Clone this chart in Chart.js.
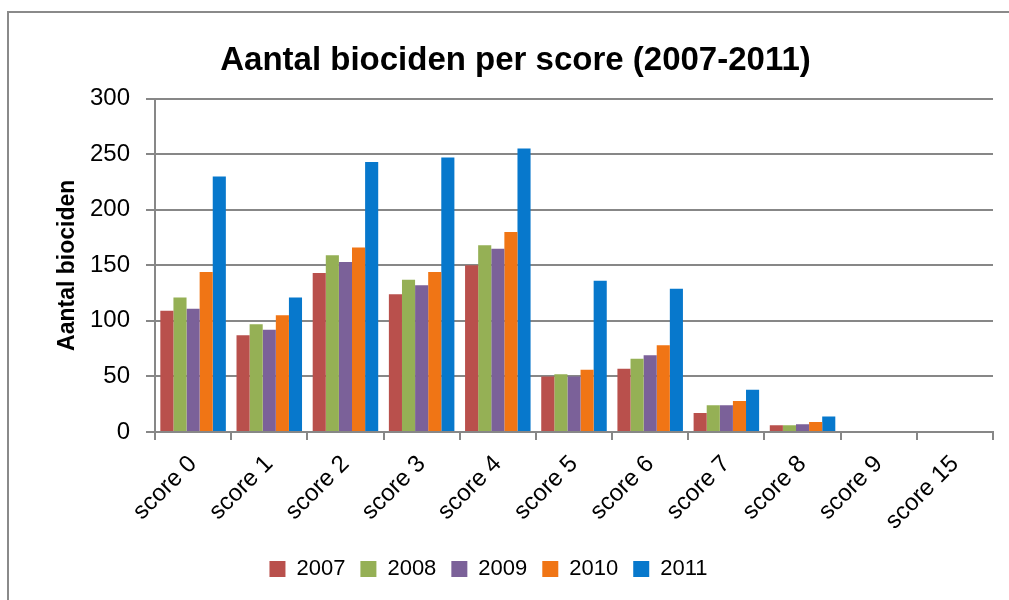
<!DOCTYPE html>
<html>
<head>
<meta charset="utf-8">
<script src="https://cdn.jsdelivr.net/npm/chart.js@4"></script>
<style>
  html, body { margin: 0; padding: 0; background: #fff; }
  #wrap { width: 1009px; height: 600px; position: relative; }
</style>
</head>
<body>
<div id="wrap"><canvas id="bioChart" width="1009" height="600"></canvas></div>
<script>
// categorieën en waarden per jaar
const categories = ['score 0', 'score 1', 'score 2', 'score 3', 'score 4', 'score 5',
    'score 6', 'score 7', 'score 8', 'score 9', 'score 15'];
const years = ['2007', '2008', '2009', '2010', '2011'];
const values2007 = [109, 87, 143, 124, 150, 50, 57, 17, 6, 0, 1];
const values2008 = [121, 97, 159, 137, 168, 52, 66, 24, 6, 1, 1];
const values2009 = [111, 92, 153, 132, 165, 50, 69, 24, 7, 1, 0];
const values2010 = [144, 105, 166, 144, 180, 56, 78, 28, 9, 1, 0];
const values2011 = [230, 121, 243, 247, 255, 136, 129, 38, 14, 1, 0];
const yTicks = [0, 50, 100, 150, 200, 250, 300];

const colors = ['#b9504c', '#95b055', '#7b6199', '#f07515', '#0778cc'];
const allValues = [values2007, values2008, values2009, values2010, values2011];

const fontFamily = '"Liberation Sans", Arial, sans-serif';
const gridColor = '#878787';

// rand om de hele grafiek + titel/legenda iets verschuiven
const frame = {
    id: 'frame',
    afterLayout(chart) {
        chart.titleBlock.left += 30;
        chart.legend.left -= 12;
        chart.legend.right -= 12;
    },
    beforeDraw(chart) {
        const c = chart.ctx;
        c.save();
        c.fillStyle = '#fff';
        c.fillRect(0, 0, chart.width, chart.height);
        c.strokeStyle = '#8a8a8a';
        c.lineWidth = 2;
        c.strokeRect(8, 12, 1010, 600);
        c.restore();
    }
};

new Chart(document.getElementById('bioChart'), {
    type: 'bar',
    data: {
        labels: categories,
        datasets: years.map((y, i) => ({
            label: y,
            data: allValues[i],
            backgroundColor: colors[i],
            borderWidth: 0,
            categoryPercentage: 0.86,
            barPercentage: 1.0
        }))
    },
    options: {
        responsive: false,
        animation: false,
        layout: { padding: { left: 8, right: 16, top: 0, bottom: 10 } },
        scales: {
            x: {
                offset: true,
                afterFit: axis => { axis.height = 111; },
                grid: {
                    offset: true,
                    drawOnChartArea: false,
                    color: gridColor,
                    lineWidth: 2,
                    tickLength: 8
                },
                border: { color: gridColor, width: 2 },
                ticks: {
                    color: '#000',
                    font: { family: fontFamily, size: 24 },
                    minRotation: 45,
                    maxRotation: 45,
                    padding: 10
                }
            },
            y: {
                min: 0,
                max: 300,
                afterFit: axis => { axis.width = 147; },
                afterBuildTicks: axis => { axis.ticks = yTicks.map(v => ({ value: v })); },
                grid: { color: gridColor, lineWidth: 2, tickLength: 9 },
                border: { color: gridColor, width: 2 },
                ticks: {
                    color: '#000',
                    font: { family: fontFamily, size: 24 },
                    padding: 16
                },
                title: {
                    display: true,
                    text: 'Aantal biociden',
                    color: '#000',
                    font: { family: fontFamily, size: 23, weight: 'bold' },
                    padding: { top: 46, bottom: 4 }
                }
            }
        },
        plugins: {
            title: {
                display: true,
                text: 'Aantal biociden per score (2007-2011)',
                color: '#000',
                font: { family: fontFamily, size: 33, weight: 'bold' },
                padding: { top: 41, bottom: 18 }
            },
            legend: {
                position: 'bottom',
                labels: {
                    color: '#000',
                    font: { family: fontFamily, size: 22 },
                    boxWidth: 16,
                    boxHeight: 16,
                    padding: 15
                }
            },
            tooltip: { enabled: false }
        }
    },
    plugins: [frame]
});
</script>
</body>
</html>
